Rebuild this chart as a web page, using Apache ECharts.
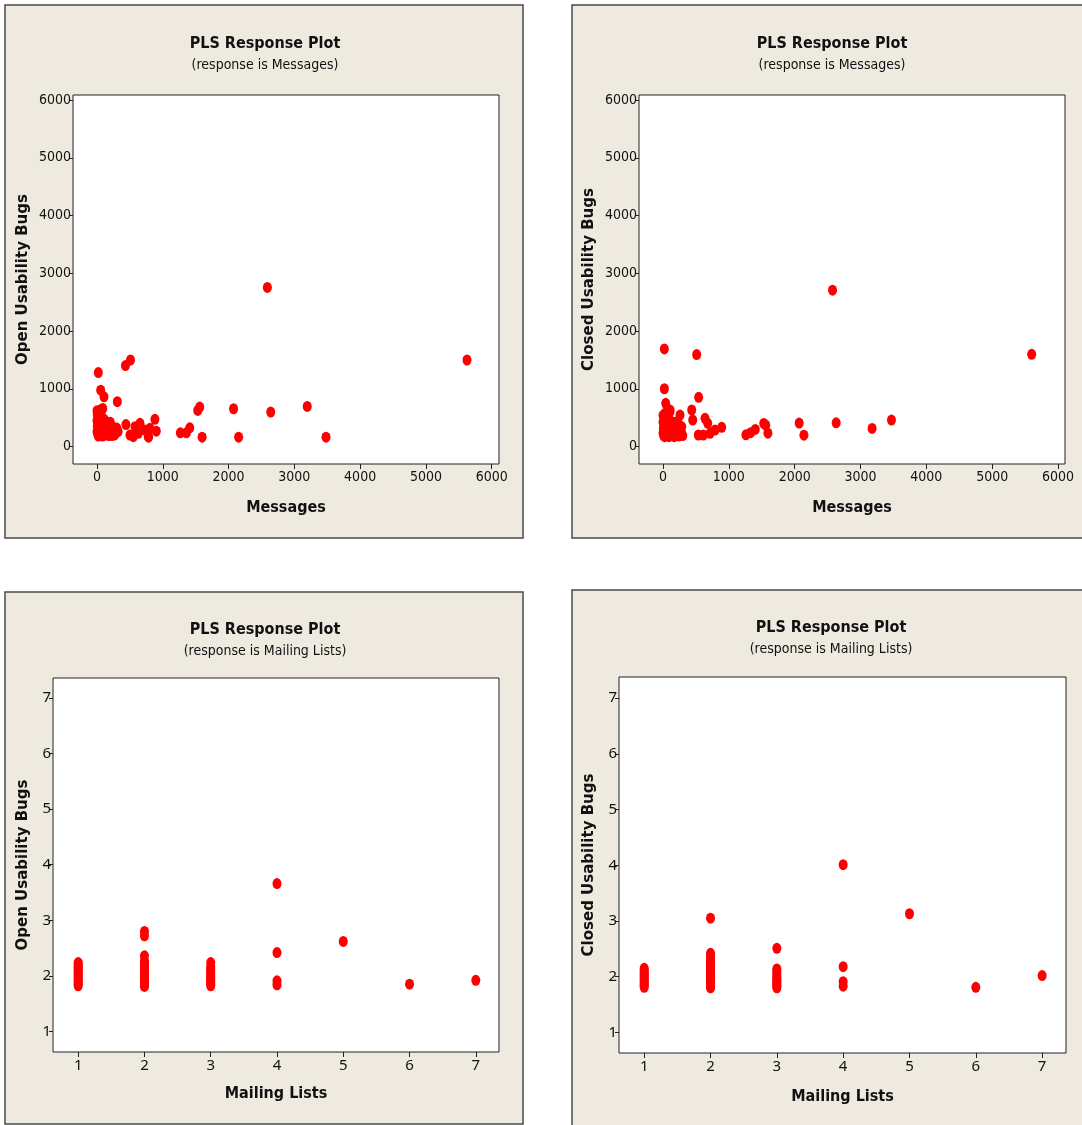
<!DOCTYPE html>
<html>
<head>
<meta charset="utf-8">
<script src="https://cdn.jsdelivr.net/npm/echarts@6/dist/echarts.min.js"></script>
<style>
html,body{margin:0;padding:0;background:#fff;}
#chart{width:1082px;height:1125px;}
</style>
</head>
<body>
<div id="chart"></div>
<script>
// ---------- data ----------
const panelTitle = 'PLS Response Plot';
const subMessages = '(response is Messages)';
const subLists = '(response is Mailing Lists)';
const yNameOpen = 'Open Usability Bugs';
const yNameClosed = 'Closed Usability Bugs';
const xNameMessages = 'Messages';
const xNameLists = 'Mailing Lists';

const msgTicks = [0, 1000, 2000, 3000, 4000, 5000, 6000];
const listTicks = [1, 2, 3, 4, 5, 6, 7];

// Open usability bugs vs messages  [messages, bugs]
const openVsMessages = [
  [2590,2755],[5625,1498],[20,1280],[432,1401],[509,1498],[56,975],[106,860],[309,776],[87,660],
  [1531,625],[1562,683],[2076,654],[2641,596],[3196,694],[3481,162],[2153,162],[1598,162],
  [1267,237],[1359,237],[1410,324],[880,470],[901,266],[784,162],[440,380],[501,199],[578,343],
  [653,401],[729,286],[805,315],[780,170],[552,170],[628,228],
  [0,620],[5,560],[10,500],[0,450],[15,400],[5,350],[20,300],[0,260],[10,220],[25,190],
  [30,540],[35,470],[40,410],[45,330],[50,260],[55,200],[60,600],[70,520],[75,440],[80,380],
  [90,310],[95,240],[100,190],[110,470],[120,350],[130,280],[140,210],[150,420],[160,330],
  [170,250],[180,190],[190,380],[200,300],[215,230],[230,190],[240,340],[255,270],[270,200],
  [300,320],[320,260],[60,640],[130,400],[20,180],[85,180],[200,420]
];

// Closed usability bugs vs messages
const closedVsMessages = [
  [2575,2708],[5600,1597],[20,1689],[511,1592],[20,1000],[541,851],[41,748],[30,575],[106,632],
  [258,545],[436,632],[451,459],[638,488],[679,402],[536,199],[612,199],[714,228],[790,286],
  [891,332],[208,430],[284,343],[1259,203],[1330,240],[1401,295],[1530,400],[1560,370],
  [1593,231],[2068,405],[2140,197],[2630,411],[3176,313],[3470,457],[106,603],
  [0,540],[10,480],[0,420],[15,370],[5,320],[20,270],[0,230],[10,190],[25,170],[40,500],
  [45,440],[50,380],[60,310],[70,250],[80,200],[90,170],[100,460],[120,390],[130,320],
  [140,260],[150,200],[170,170],[180,350],[200,280],[220,220],[240,180],[260,300],[280,240],
  [300,190],[60,560],[150,420],[230,400]
];

// Open usability bugs vs mailing lists
const openVsLists = [
  [1,1.82],[1,1.85],[1,1.88],[1,1.91],[1,1.94],[1,1.97],[1,2.00],[1,2.03],[1,2.06],[1,2.09],
  [1,2.12],[1,2.15],[1,2.18],[1,2.21],[1,2.24],
  [2,1.81],[2,1.84],[2,1.87],[2,1.90],[2,1.93],[2,1.96],[2,1.99],[2,2.02],[2,2.05],[2,2.08],
  [2,2.11],[2,2.14],[2,2.17],[2,2.20],[2,2.24],[2,2.27],[2,2.36],[2,2.72],[2,2.80],
  [3,1.82],[3,1.85],[3,1.88],[3,1.91],[3,1.94],[3,1.97],[3,2.00],[3,2.04],[3,2.08],[3,2.12],
  [3,2.17],[3,2.24],
  [4,1.84],[4,1.91],[4,2.42],[4,3.66],
  [5,2.62],[6,1.85],[7,1.92]
];

// Closed usability bugs vs mailing lists
const closedVsLists = [
  [1,1.81],[1,1.84],[1,1.87],[1,1.90],[1,1.93],[1,1.96],[1,1.99],[1,2.02],[1,2.05],[1,2.08],
  [1,2.11],[1,2.15],
  [2,1.80],[2,1.83],[2,1.86],[2,1.89],[2,1.92],[2,1.95],[2,1.98],[2,2.01],[2,2.04],[2,2.07],
  [2,2.10],[2,2.13],[2,2.16],[2,2.19],[2,2.22],[2,2.25],[2,2.29],[2,2.33],[2,2.37],[2,2.42],
  [2,3.05],
  [3,1.80],[3,1.83],[3,1.86],[3,1.89],[3,1.92],[3,1.95],[3,1.98],[3,2.02],[3,2.06],[3,2.10],
  [3,2.14],[3,2.51],
  [4,1.83],[4,1.91],[4,2.18],[4,4.01],
  [5,3.13],[6,1.81],[7,2.02]
];

// ---------- styling / layout ----------
const narrow = "'Liberation Sans Narrow','DejaVu Sans Condensed','Arial Narrow',sans-serif";
const wide = "'DejaVu Sans',Verdana,sans-serif";
const plain = "'Noto Sans','Open Sans',sans-serif";

const panels = [
  {rect:[5,5,518,533],   grid:{left:73, top:95, width:426, height:369}, cx:265, ty:36,
   sub:subMessages, yName:yNameOpen, xName:xNameMessages, data:openVsMessages,
   x:[-365,6111], y:[-303,6087], ticks:msgTicks, yGap:42, xGap:36, tickFont:narrow, tickSize:14},
  {rect:[572,5,530,533], grid:{left:639, top:95, width:426, height:369}, cx:832, ty:36,
   sub:subMessages, yName:yNameClosed, xName:xNameMessages, data:closedVsMessages,
   x:[-365,6106], y:[-303,6087], ticks:msgTicks, yGap:42, xGap:36, tickFont:narrow, tickSize:14},
  {rect:[5,592,518,532], grid:{left:53, top:678, width:446, height:374}, cx:265, ty:622,
   sub:subLists, yName:yNameOpen, xName:xNameLists, data:openVsLists,
   x:[0.62,7.35], y:[0.63,7.36], ticks:listTicks, yGap:22, xGap:34, tickFont:plain, tickSize:15},
  {rect:[572,590,530,545], grid:{left:619, top:677, width:447, height:376}, cx:831, ty:620,
   sub:subLists, yName:yNameClosed, xName:xNameLists, data:closedVsLists,
   x:[0.62,7.36], y:[0.63,7.38], ticks:listTicks, yGap:22, xGap:36, tickFont:plain, tickSize:15}
];

const plainNumber = v => String(v);

const option = {
  backgroundColor:'#ffffff',
  animation:false,
  graphic: panels.map(p => ({
    type:'rect', z:-10, silent:true,
    shape:{x:p.rect[0], y:p.rect[1], width:p.rect[2], height:p.rect[3]},
    style:{fill:'#EEEAE0', stroke:'#4a4a4a', lineWidth:1.5}
  })),
  title: panels.map(p => ({
    text:panelTitle, subtext:p.sub, left:p.cx, top:p.ty, textAlign:'center', padding:0, itemGap:6,
    textStyle:{fontFamily:narrow, fontWeight:'bold', fontSize:16, color:'#111'},
    subtextStyle:{fontFamily:narrow, fontSize:14, color:'#111'}
  })),
  grid: panels.map(p => Object.assign({show:true, backgroundColor:'#ffffff', borderColor:'#222', borderWidth:1}, p.grid)),
  xAxis: panels.map((p,i) => ({
    type:'value', gridIndex:i, min:p.x[0], max:p.x[1],
    name:p.xName, nameLocation:'middle', nameGap:p.xGap,
    nameTextStyle:{fontFamily:narrow, fontWeight:'bold', fontSize:16, color:'#111'},
    axisLine:{show:false, onZero:false},
    axisTick:{show:true, length:5, customValues:p.ticks, lineStyle:{color:'#222'}},
    axisLabel:{customValues:p.ticks, formatter:plainNumber, margin:6, fontFamily:p.tickFont, fontSize:p.tickSize, color:'#111'},
    splitLine:{show:false}
  })),
  yAxis: panels.map((p,i) => ({
    type:'value', gridIndex:i, min:p.y[0], max:p.y[1],
    name:p.yName, nameLocation:'middle', nameGap:p.yGap, nameRotate:90,
    nameTextStyle:{fontFamily:wide, fontWeight:'bold', fontSize:15, color:'#111'},
    axisLine:{show:false, onZero:false},
    axisTick:{show:true, length:4, customValues:p.ticks, lineStyle:{color:'#222'}},
    axisLabel:{customValues:p.ticks, formatter:plainNumber, margin:2, fontFamily:p.tickFont, fontSize:p.tickSize, color:'#111'},
    splitLine:{show:false}
  })),
  series: panels.map((p,i) => ({
    type:'scatter', xAxisIndex:i, yAxisIndex:i, data:p.data,
    symbol:'circle', symbolSize:[9,11],
    itemStyle:{color:'#ff0000', opacity:1}
  }))
};

const chart = echarts.init(document.getElementById('chart'), null, {renderer:'canvas'});
chart.setOption(option);
</script>
</body>
</html>
